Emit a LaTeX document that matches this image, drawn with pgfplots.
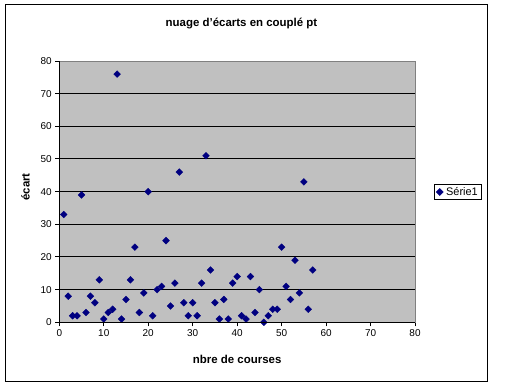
\documentclass[border=0pt]{standalone}
\usepackage{fontspec}
\setmainfont{Liberation Sans}
\usepackage{pgfplots}
\pgfplotsset{compat=1.18}
\definecolor{plotgray}{HTML}{C0C0C0}
\definecolor{borderg}{HTML}{808080}
\definecolor{navy}{HTML}{000080}
\pgfplotstableread{
x y
1 33
2 8
3 2
4 2
5 39
6 3
7 8
8 6
9 13
10 1
11 3
12 4
13 76
14 1
15 7
16 13
17 23
18 3
19 9
20 40
21 2
22 10
23 11
24 25
25 5
26 12
27 46
28 6
29 2
30 6
31 2
32 12
33 51
34 16
35 6
36 1
37 7
38 1
39 12
40 14
41 2
42 1
43 14
44 3
45 10
46 0
47 2
48 4
49 4
50 23
51 11
52 7
53 19
54 9
55 43
56 4
57 16
}\data
\begin{document}
\begin{tikzpicture}[x=1bp,y=1bp]
\fill[white] (0,0) rectangle (512,387);
\draw[black, line width=1bp] (5,6) rectangle (487,382);
\node[font=\bfseries\fontsize{11.5}{13}\selectfont] at (241.5,363.5) {nuage d'écarts en couplé pt};
\begin{axis}[
 at={(59.3bp,64.7bp)}, anchor=south west,
 width=355.7bp, height=261.3bp, scale only axis,
 xmin=0, xmax=80, ymin=0, ymax=80,
 xtick={0,10,...,80}, ytick={0,10,...,80},
 /pgf/number format/assume math mode=true,
 ticklabel style={font=\fontsize{10}{12}\selectfont},
 axis background/.style={fill=plotgray},
 axis line style={draw=borderg, line width=1bp},
 tick align=outside, xtick pos=bottom, ytick pos=left,
 major tick length=4bp,
 tick style={black, line width=1bp},
 major grid style={black, line width=1bp},
 extra y ticks={10,20,...,70}, extra y tick labels={},
 extra y tick style={ymajorgrids=true},
 xlabel={nbre de courses}, ylabel={écart},
 label style={font=\bfseries\fontsize{11.5}{13}\selectfont},
 xlabel style={at={(axis description cs:0.5,-0.1405)}, anchor=center},
 ylabel style={at={(axis description cs:-0.095,0.518)}, anchor=center},
 legend style={at={(1.0534,0.4987)}, anchor=west, draw=black, fill=white,
   line width=0.75bp, font=\fontsize{11}{13}\selectfont, inner xsep=2bp, inner ysep=1bp},
 legend image code/.code={\path (-3bp,0) (4bp,0); \draw[#1] plot coordinates {(0bp,0bp)};},
 after end axis/.code={
   \draw[black, line width=1bp] (rel axis cs:0,0) -- (rel axis cs:1,0);
   \draw[black, line width=1bp] (rel axis cs:0,0) -- (rel axis cs:0,1);
 },
]
\addplot[only marks, color=navy, mark=square*, mark size=2.4bp,
  mark options={rotate=45, fill=navy, draw=navy}] table[x=x,y=y] {\data};
\addlegendentry{Série1}
\end{axis}
\end{tikzpicture}
\end{document}
